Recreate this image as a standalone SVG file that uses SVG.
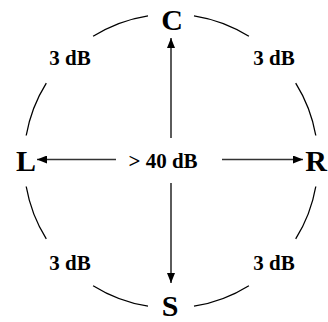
<svg xmlns="http://www.w3.org/2000/svg" width="328" height="322" viewBox="0 0 328 322">
<defs>
<style>
.node{font-family:"Liberation Serif","Times New Roman",serif;font-weight:bold;font-size:30px;fill:#000;text-anchor:middle}
.lbl{font-family:"Liberation Serif","Times New Roman",serif;font-weight:bold;font-size:21px;fill:#000;text-anchor:middle}
.arc{fill:none;stroke:#000;stroke-width:1.3}
.conn{stroke:#333;stroke-width:1.6;fill:none;marker-end:url(#ah)}
</style>
<marker id="ah" viewBox="0 0 10 8" refX="10" refY="4" markerWidth="10" markerHeight="8" markerUnits="userSpaceOnUse" orient="auto">
<path d="M0,0 L10,4 L0,8 Z" fill="#000"/>
</marker>
</defs>
<rect width="328" height="322" fill="#fff"/>
<g id="ring">
<path class="arc" d="M148,15.8 A147,147 0 0 0 93.1,36.3"/>
<path class="arc" d="M46.3,83.1 A147,147 0 0 0 26.2,135.5"/>
<path class="arc" d="M26.2,186.5 A147,147 0 0 0 46.3,238.9"/>
<path class="arc" d="M93.1,285.7 A147,147 0 0 0 148,306.2"/>
<path class="arc" d="M194,15.8 A147,147 0 0 1 248.9,36.3"/>
<path class="arc" d="M295.7,83.1 A147,147 0 0 1 315.8,135.5"/>
<path class="arc" d="M315.8,186.5 A147,147 0 0 1 295.7,238.9"/>
<path class="arc" d="M248.9,285.7 A147,147 0 0 1 194,306.2"/>
</g>
<g id="connectors">
<line class="conn" x1="171" y1="138" x2="171" y2="38"/>
<line class="conn" x1="171" y1="183" x2="171" y2="283"/>
<line class="conn" x1="116" y1="159.5" x2="37" y2="159.5"/>
<line class="conn" x1="222" y1="159.5" x2="303" y2="159.5"/>
</g>
<g id="node-C"><text class="node" x="172" y="30">C</text></g>
<g id="node-L"><text class="node" x="26" y="171">L</text></g>
<g id="node-R"><text class="node" x="316" y="171">R</text></g>
<g id="node-S"><text class="node" x="170" y="316">S</text></g>
<g id="labels">
<text class="lbl" x="70" y="65">3 dB</text>
<text class="lbl" x="274" y="65">3 dB</text>
<text class="lbl" x="70" y="270">3 dB</text>
<text class="lbl" x="274" y="270">3 dB</text>
<text class="lbl" x="163" y="168">&gt; 40 dB</text>
</g>
</svg>
